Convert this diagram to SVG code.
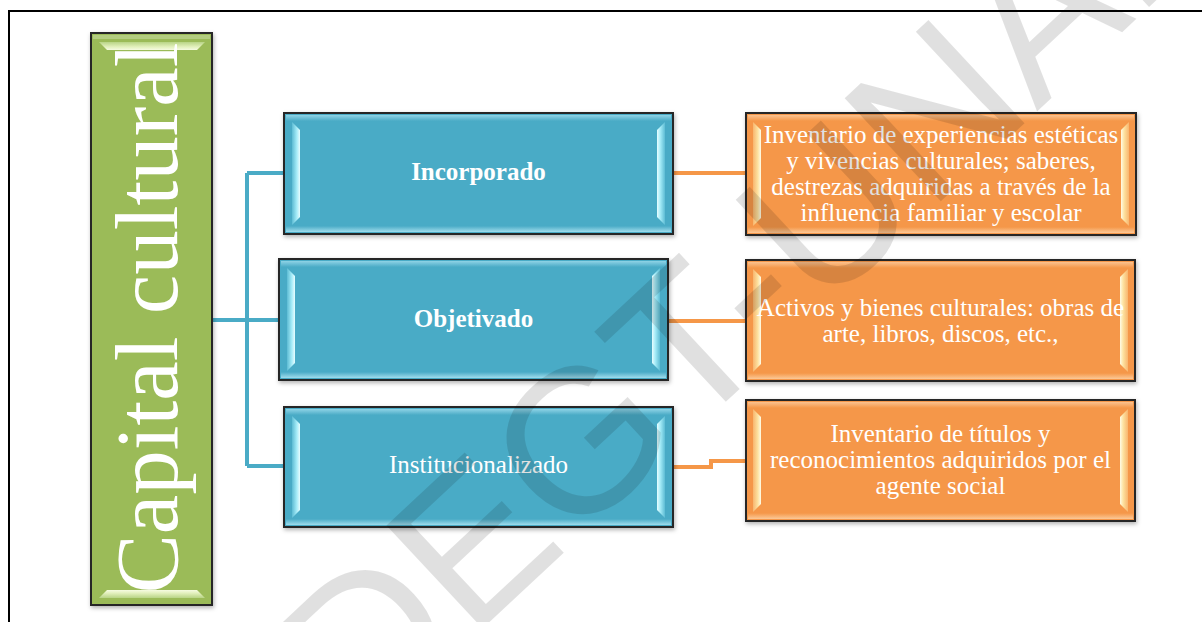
<svg xmlns="http://www.w3.org/2000/svg" width="1202" height="622" viewBox="0 0 1202 622">
<defs>
<style>
.frame{fill:none;stroke:#000;stroke-width:2}
.box{stroke:#262626;stroke-width:2}
.blue{fill:#4aabc6}
.orange{fill:#f59748}
.green{fill:#9bbb59}
.cb{fill:none;stroke:#4aabc6;stroke-width:4}
.co{fill:none;stroke:#f59748;stroke-width:4}
.lbl{font-family:"Liberation Serif","DejaVu Serif",serif;fill:#fff;text-anchor:middle}
.bold{font-weight:bold;font-size:25px}
.reg{font-size:25px}
.wm{font-family:"Liberation Sans","DejaVu Sans",sans-serif;font-size:205px;fill:#000;fill-opacity:0.12}
</style>
<linearGradient id="bL" x1="0" y1="0" x2="1" y2="0"><stop offset="0" stop-color="#5dbcd4"/><stop offset="0.6" stop-color="#a6ecf8"/><stop offset="1" stop-color="#e8fdff"/></linearGradient>
<linearGradient id="bR" x1="1" y1="0" x2="0" y2="0"><stop offset="0" stop-color="#5dbcd4"/><stop offset="0.6" stop-color="#a6ecf8"/><stop offset="1" stop-color="#e8fdff"/></linearGradient>
<linearGradient id="bT" x1="0" y1="0" x2="0" y2="1"><stop offset="0" stop-color="#8fd3e6"/><stop offset="1" stop-color="#4aabc6"/></linearGradient>
<linearGradient id="bB" x1="0" y1="1" x2="0" y2="0"><stop offset="0" stop-color="#9fdcec"/><stop offset="1" stop-color="#4aabc6"/></linearGradient>
<linearGradient id="oL" x1="0" y1="0" x2="1" y2="0"><stop offset="0" stop-color="#f8b56e"/><stop offset="0.6" stop-color="#fde2a0"/><stop offset="1" stop-color="#fffbe6"/></linearGradient>
<linearGradient id="oR" x1="1" y1="0" x2="0" y2="0"><stop offset="0" stop-color="#f8b56e"/><stop offset="0.6" stop-color="#fde2a0"/><stop offset="1" stop-color="#fffbe6"/></linearGradient>
<linearGradient id="oT" x1="0" y1="0" x2="0" y2="1"><stop offset="0" stop-color="#fbc28f"/><stop offset="1" stop-color="#f59748"/></linearGradient>
<linearGradient id="oB" x1="0" y1="1" x2="0" y2="0"><stop offset="0" stop-color="#fbc897"/><stop offset="1" stop-color="#f59748"/></linearGradient>
<linearGradient id="gT" x1="0" y1="0" x2="0" y2="1"><stop offset="0" stop-color="#b8d486"/><stop offset="0.6" stop-color="#e2f0bc"/><stop offset="1" stop-color="#f6fbe2"/></linearGradient>
<linearGradient id="gB" x1="0" y1="1" x2="0" y2="0"><stop offset="0" stop-color="#b8d486"/><stop offset="0.6" stop-color="#e2f0bc"/><stop offset="1" stop-color="#f6fbe2"/></linearGradient>
<filter id="sh" x="-5%" y="-5%" width="110%" height="120%"><feDropShadow dx="1" dy="2" stdDeviation="2" flood-color="#000" flood-opacity="0.3"/></filter>
</defs>
<rect width="1202" height="622" fill="#fff"/>
<path class="frame" d="M9,622 V11 H1202"/>

<g id="connectors">
<path class="cb" d="M212,320 H279 M247,173 V466 M247,173 H284 M247,466 H284"/>
<path class="co" d="M673,173 H746"/>
<path class="co" d="M668,321 H746"/>
<path class="co" d="M673,467 H711 V461 H746"/>
</g>

<g id="node-capital-cultural">
<rect class="box green" x="91" y="33" width="121" height="572" filter="url(#sh)"/>
<rect x="93" y="35" width="117" height="4" fill="#b3cd80"/>
<polygon points="99,42 205,42 197,50 107,50" fill="url(#gT)"/>
<polygon points="107,590 197,590 205,598 99,598" fill="url(#gB)"/>
<text class="lbl" font-size="89" transform="translate(177,318) rotate(-90)" x="0" y="0">Capital cultural</text>
</g>

<g id="node-incorporado">
<rect class="box blue" x="284" y="113" width="389" height="121" filter="url(#sh)"/>
<rect x="286" y="115" width="385" height="6" fill="url(#bT)"/>
<rect x="286" y="226" width="385" height="6" fill="url(#bB)"/>
<polygon points="292,122 300,130 300,217 292,225" fill="url(#bL)"/>
<polygon points="665,122 657,130 657,217 665,225" fill="url(#bR)"/>
<text class="lbl bold" x="478.5" y="180">Incorporado</text>
</g>

<g id="node-objetivado">
<rect class="box blue" x="279" y="259" width="389" height="121" filter="url(#sh)"/>
<rect x="281" y="261" width="385" height="6" fill="url(#bT)"/>
<rect x="281" y="372" width="385" height="6" fill="url(#bB)"/>
<polygon points="287,268 295,276 295,363 287,371" fill="url(#bL)"/>
<polygon points="660,268 652,276 652,363 660,371" fill="url(#bR)"/>
<text class="lbl bold" x="473.5" y="327">Objetivado</text>
</g>

<g id="node-institucionalizado">
<rect class="box blue" x="284" y="407" width="389" height="120" filter="url(#sh)"/>
<rect x="286" y="409" width="385" height="6" fill="url(#bT)"/>
<rect x="286" y="519" width="385" height="6" fill="url(#bB)"/>
<polygon points="292,416 300,424 300,510 292,518" fill="url(#bL)"/>
<polygon points="665,416 657,424 657,510 665,518" fill="url(#bR)"/>
<text class="lbl reg" x="478.5" y="473">Institucionalizado</text>
</g>

<g id="node-incorporado-desc">
<rect class="box orange" x="746" y="113" width="390" height="122" filter="url(#sh)"/>
<rect x="748" y="115" width="386" height="6" fill="url(#oT)"/>
<rect x="748" y="227" width="386" height="6" fill="url(#oB)"/>
<polygon points="753,122 761,130 761,218 753,226" fill="url(#oL)"/>
<polygon points="1129,122 1121,130 1121,218 1129,226" fill="url(#oR)"/>
<text class="lbl reg"><tspan x="941" y="143">Inventario de experiencias estéticas</tspan><tspan x="941" y="169">y vivencias culturales; saberes,</tspan><tspan x="941" y="195">destrezas adquiridas a través de la</tspan><tspan x="941" y="221">influencia familiar y escolar</tspan></text>
</g>

<g id="node-objetivado-desc">
<rect class="box orange" x="746" y="260" width="389" height="121" filter="url(#sh)"/>
<rect x="748" y="262" width="385" height="6" fill="url(#oT)"/>
<rect x="748" y="373" width="385" height="6" fill="url(#oB)"/>
<polygon points="753,269 761,277 761,364 753,372" fill="url(#oL)"/>
<polygon points="1128,269 1120,277 1120,364 1128,372" fill="url(#oR)"/>
<text class="lbl reg"><tspan x="940.5" y="316">Activos y bienes culturales: obras de</tspan><tspan x="940.5" y="342">arte, libros, discos, etc.,</tspan></text>
</g>

<g id="node-institucionalizado-desc">
<rect class="box orange" x="746" y="400" width="389" height="121" filter="url(#sh)"/>
<rect x="748" y="402" width="385" height="6" fill="url(#oT)"/>
<rect x="748" y="513" width="385" height="6" fill="url(#oB)"/>
<polygon points="753,409 761,417 761,504 753,512" fill="url(#oL)"/>
<polygon points="1128,409 1120,417 1120,504 1128,512" fill="url(#oR)"/>
<text class="lbl reg"><tspan x="940.5" y="442">Inventario de títulos y</tspan><tspan x="940.5" y="468">reconocimientos adquiridos por el</tspan><tspan x="940.5" y="494">agente social</tspan></text>
</g>

<g id="watermark">
<text class="wm" transform="translate(362,741) rotate(-43)" x="0" y="0">DEGT-UNAM</text>
</g>
</svg>
